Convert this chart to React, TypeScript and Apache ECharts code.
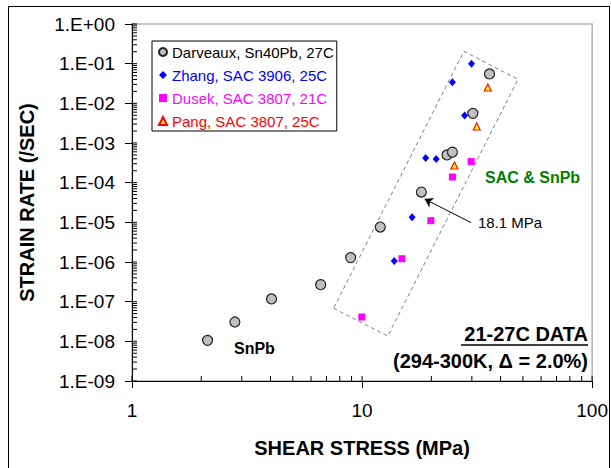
import React, { useEffect, useRef } from "react";
import * as echarts from "echarts";

// ---- Data ----
const darveauxX = [2.13, 2.8, 4.04, 6.61, 8.92, 12.0, 18.1, 23.4, 24.7, 30.3, 35.8];
const darveauxY = [1.06e-8, 3.07e-8, 1.17e-7, 2.68e-7, 1.29e-6, 7.6e-6, 5.8e-5, 5.0e-4, 5.9e-4, 5.6e-3, 5.5e-2];

const zhangX = [13.8, 16.5, 18.9, 21.0, 24.7, 27.9, 29.9];
const zhangY = [1.06e-6, 1.34e-5, 4.2e-4, 3.95e-4, 3.4e-2, 4.9e-3, 0.1];

const dusekX = [9.98, 14.9, 19.9, 24.7, 29.8];
const dusekY = [4.1e-8, 1.21e-6, 1.1e-5, 1.39e-4, 3.4e-4];

const pangX = [25.2, 31.5, 35.2];
const pangY = [2.7e-4, 2.6e-3, 2.5e-2];

// dashed enclosing box corners (stress, strain rate)
const boxX = [7.52, 12.94, 47.6, 27.7, 7.52];
const boxY = [6.79e-8, 1.36e-8, 4.03e-2, 0.205, 6.79e-8];

// arrow to the 18.1 MPa point: tail, head
const arrowX = [29.8, 18.7];
const arrowY = [9.8e-6, 3.87e-5];

const seriesNames = [
  "Darveaux, Sn40Pb, 27C",
  "Zhang, SAC 3906, 25C",
  "Dusek, SAC 3807, 21C",
  "Pang, SAC 3807, 25C",
];
const seriesColors = ["#000000", "#0000ff", "#ff00ff", "#ff0000"];

const X_MIN = 1;
const X_MAX = 100;
const Y_MIN = 1e-9;
const Y_MAX = 1;

const xDecades = [0, 1];
const yDecades = [-9, -8, -7, -6, -5, -4, -3, -2, -1];
const minorMultipliers = [1, 2, 3, 4, 5, 6, 7, 8, 9];

const zip = (xs: number[], ys: number[]) => xs.map((x, i) => [x, ys[i]]);

const FONT = "'Liberation Sans', Arial, Helvetica, sans-serif";

export default function App() {
  const ref = useRef<HTMLDivElement>(null);

  useEffect(() => {
    if (!ref.current) return;
    const chart = echarts.init(ref.current, undefined, { renderer: "svg" });

    const xTickVals: number[] = [];
    xDecades.forEach((e) => minorMultipliers.forEach((k) => xTickVals.push(k * Math.pow(10, e))));
    xTickVals.push(X_MAX);
    const yTickVals: number[] = [];
    yDecades.forEach((e) => minorMultipliers.forEach((k) => yTickVals.push(k * Math.pow(10, e))));
    yTickVals.push(Y_MAX);

    const expLabel = (v: number) => {
      const e = Math.round(Math.log10(v));
      const a = Math.abs(e);
      return "1.E" + (e >= 0 ? "+" : "-") + (a < 10 ? "0" + a : String(a));
    };

    const option: any = {
      animation: false,
      textStyle: { fontFamily: FONT },
      grid: {
        left: 132,
        right: 16,
        top: 24,
        bottom: 87,
        show: true,
        borderColor: "#b4b4b4",
        borderWidth: 1.5,
        backgroundColor: "transparent",
      },
      legend: {
        left: 152,
        top: 41,
        orient: "vertical",
        backgroundColor: "#fff",
        borderColor: "#000",
        borderWidth: 1,
        borderRadius: 0,
        padding: [3, 3, 2, 6],
        itemGap: 7,
        itemWidth: 8,
        itemHeight: 8,
        textStyle: { fontSize: 15, fontFamily: FONT, lineHeight: 16 },
        data: seriesNames.map((n, i) => ({ name: n, textStyle: { color: seriesColors[i] } })),
      },
      xAxis: {
        type: "log",
        logBase: 10,
        min: X_MIN,
        max: X_MAX,
        interval: 1,
        name: "SHEAR STRESS (MPa)",
        nameLocation: "middle",
        nameGap: 57,
        nameTextStyle: { fontSize: 20, fontWeight: "bold", color: "#000", fontFamily: FONT },
        axisLine: { show: true, lineStyle: { color: "#000", width: 1 } },
        axisTick: { show: true, inside: false, length: 7, lineStyle: { color: "#000" } },
        axisLabel: {
          fontSize: 19,
          color: "#000",
          margin: 20,
          formatter: (v: number) => String(Math.round(v)),
        },
        splitLine: { show: false },
        minorTick: { show: false },
      },
      yAxis: {
        type: "log",
        logBase: 10,
        min: Y_MIN,
        max: Y_MAX,
        interval: 1,
        name: "STRAIN RATE (/SEC)",
        nameLocation: "middle",
        nameGap: 95,
        nameTextStyle: { fontSize: 20, fontWeight: "bold", color: "#000", fontFamily: FONT },
        axisLine: { show: true, lineStyle: { color: "#000", width: 1 } },
        axisTick: { show: true, inside: false, length: 7, lineStyle: { color: "#000" } },
        axisLabel: {
          fontSize: 19,
          color: "#000",
          margin: 17,
          formatter: expLabel,
        },
        splitLine: { show: false },
      },
      series: [
        {
          name: "box",
          type: "line",
          data: zip(boxX, boxY),
          symbol: "none",
          silent: true,
          lineStyle: { color: "#808080", width: 1, type: [4, 3] },
          z: 1,
          markLine: {
            silent: true,
            symbol: ["none", "arrow"],
            symbolSize: [0, 8],
            label: { show: false },
            lineStyle: { color: "#000", width: 1, type: "solid" },
            data: [
              [
                { coord: [arrowX[0], arrowY[0]], symbol: "none" },
                { coord: [arrowX[1], arrowY[1]], symbol: "arrow", symbolSize: 8 },
              ],
            ],
          },
        },
        {
          name: "xticks",
          type: "custom",
          silent: true,
          clip: false,
          z: 5,
          data: xTickVals.map((v) => [v, Y_MIN]),
          encode: { x: 0, y: 1 },
          renderItem: (_p: any, api: any) => {
            const p = api.coord([api.value(0), api.value(1)]);
            return {
              type: "line",
              shape: { x1: p[0], y1: p[1], x2: p[0], y2: p[1] - 5 },
              style: { stroke: "#000", lineWidth: 1 },
            };
          },
        },
        {
          name: "yticks",
          type: "custom",
          silent: true,
          clip: false,
          z: 5,
          data: yTickVals.map((v) => [X_MIN, v]),
          encode: { x: 0, y: 1 },
          renderItem: (_p: any, api: any) => {
            const p = api.coord([api.value(0), api.value(1)]);
            return {
              type: "line",
              shape: { x1: p[0], y1: p[1], x2: p[0] + 5, y2: p[1] },
              style: { stroke: "#000", lineWidth: 1 },
            };
          },
        },
        {
          name: seriesNames[0],
          type: "scatter",
          data: zip(darveauxX, darveauxY),
          symbol: "circle",
          symbolSize: 10,
          itemStyle: { color: "#c0c0c0", borderColor: "#222", borderWidth: 1.2, opacity: 1 },
          z: 3,
        },
        {
          name: seriesNames[1],
          type: "scatter",
          data: zip(zhangX, zhangY),
          symbol: "diamond",
          symbolSize: [7, 8],
          itemStyle: { color: "#0000ff", opacity: 1 },
          z: 4,
        },
        {
          name: seriesNames[2],
          type: "scatter",
          data: zip(dusekX, dusekY),
          symbol: "rect",
          symbolSize: 7,
          itemStyle: { color: "#ff00ff", opacity: 1 },
          z: 4,
        },
        {
          name: seriesNames[3],
          type: "scatter",
          data: zip(pangX, pangY),
          symbol: "triangle",
          symbolSize: 7,
          itemStyle: { color: "#ffff00", borderColor: "#ff0000", borderWidth: 1.1, opacity: 1 },
          z: 4,
        },
      ],
      graphic: [
        {
          type: "rect",
          z: -10,
          silent: true,
          shape: { x: 8.5, y: 6.5, width: 601, height: 470 },
          style: { fill: "none", stroke: "#000", lineWidth: 1 },
        },
        {
          type: "text",
          x: 234,
          y: 348,
          style: {
            text: "SnPb",
            font: `bold 16px ${FONT}`,
            fill: "#000",
            verticalAlign: "middle",
          },
        },
        {
          type: "text",
          x: 485,
          y: 177,
          style: {
            text: "SAC & SnPb",
            font: `bold 16px ${FONT}`,
            fill: "#008000",
            verticalAlign: "middle",
          },
        },
        {
          type: "text",
          x: 478,
          y: 222,
          style: {
            text: "18.1 MPa",
            font: `15px ${FONT}`,
            fill: "#000",
            verticalAlign: "middle",
          },
        },
        {
          type: "text",
          x: 588,
          y: 334,
          style: {
            text: "21-27C DATA",
            font: `bold 20px ${FONT}`,
            fill: "#000",
            align: "right",
            verticalAlign: "middle",
          },
        },
        {
          type: "line",
          shape: { x1: 461, y1: 345, x2: 588, y2: 345 },
          style: { stroke: "#000", lineWidth: 1.5 },
        },
        {
          type: "text",
          x: 588,
          y: 361,
          style: {
            text: "(294-300K, \u0394 = 2.0%)",
            font: `bold 20px ${FONT}`,
            fill: "#000",
            align: "right",
            verticalAlign: "middle",
          },
        },
      ],
    };

    chart.setOption(option);
    return () => chart.dispose();
  }, []);

  return (
    <div
      ref={ref}
      style={{ position: "absolute", left: 0, top: 0, width: 611, height: 468, background: "#fff" }}
    />
  );
}
